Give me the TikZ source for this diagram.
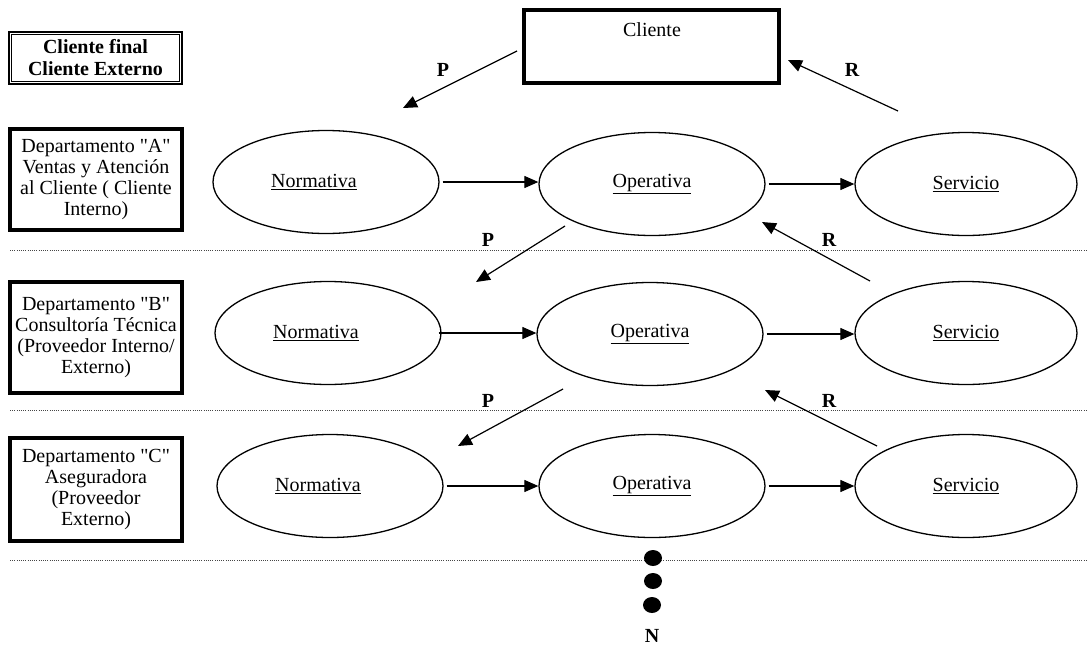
\documentclass[tikz,border=0pt]{standalone}
\usepackage{fontspec}
\setmainfont{Liberation Serif}
\usetikzlibrary{arrows.meta,shapes.geometric}
% straight double quote, kept out of the TeX ligature mapping
\newcommand\dq{\XeTeXglyph\XeTeXglyphindex "quotedbl"\relax}
% label set a little left of the ellipse centre
\newcommand\leftword[1]{\underline{#1}\rule{24pt}{0pt}}
\begin{document}
\begin{tikzpicture}[x=1pt,y=-1pt,
  txt/.style={font=\fontsize{20}{21.5}\selectfont, inner sep=0pt},
  lbl/.style={font=\fontsize{20}{21.5}\selectfont\bfseries, inner sep=0pt},
  dept/.style={draw, line width=3.5pt, minimum width=172pt, align=center,
    font=\fontsize{20}{21.2}\selectfont, inner sep=0pt},
  proc/.style={draw, ellipse, line width=1.3pt, minimum width=226pt,
    minimum height=103pt, inner sep=0pt, font=\fontsize{20}{21.5}\selectfont},
  flow/.style={line width=1.2pt, -{Triangle[length=14pt,width=12pt]}},
  sep/.style={line width=0.9pt, gray!55!black, dash pattern=on 1pt off 1.2pt},
  dot/.style={fill=black, ellipse, minimum width=18pt, minimum height=16pt, inner sep=0pt},
]
\useasboundingbox (0,0) rectangle (1088,649);

% level separators
\coordinate (s1a) at (10,250);  \coordinate (s1b) at (1088,250);
\coordinate (s2a) at (10,410);  \coordinate (s2b) at (1088,410);
\coordinate (s3a) at (10,560);  \coordinate (s3b) at (1088,560);
\draw[sep] (s1a) -- (s1b);
\draw[sep] (s2a) -- (s2b);
\draw[sep] (s3a) -- (s3b);

% end client
\node[draw, line width=2pt, minimum width=173pt, minimum height=52pt,
  align=center, font=\fontsize{20}{22}\selectfont\bfseries, inner sep=0pt]
  (cf) at (95.5,58) {Cliente final\\Cliente Externo};
\draw[line width=1pt] ([shift={(3.5,3.5)}]cf.north west) rectangle ([shift={(-3.5,-3.5)}]cf.south east);

\node[draw, line width=3.5pt, minimum width=255pt, minimum height=73pt] (cli) at (651.5,46.5) {};
\node[txt] (clitxt) at (652,30) {Cliente};

% departments
\node[dept, minimum height=101pt] (da) at (96,179.5)
  {Departamento \dq A\dq\\Ventas y Atención\\al Cliente ( Cliente\\Interno)};
\node[dept, minimum height=111pt] (db) at (96,337.5)
  {Departamento \dq B\dq\\Consultoría Técnica\\(Proveedor Interno/\\Externo)};
\node[dept, minimum height=103pt] (dc) at (96,489.5)
  {Departamento \dq C\dq\\Aseguradora\\(Proveedor\\Externo)};

% processes
\node[proc] (n1) at (326,182) {\leftword{Normativa}};
\node[proc] (o1) at (652,184) {\underline{Operativa}};
\node[proc, minimum width=222pt] (v1) at (966,184) {\underline{Servicio}};
\node[proc] (n2) at (328,333) {\leftword{Normativa}};
\node[proc] (o2) at (650,334) {\underline{Operativa}};
\node[proc, minimum width=222pt] (v2) at (966,333) {\underline{Servicio}};
\node[proc] (n3) at (330,486) {\leftword{Normativa}};
\node[proc] (o3) at (652,486) {\underline{Operativa}};
\node[proc, minimum width=222pt] (v3) at (966,486) {\underline{Servicio}};

\draw[flow] ([xshift=3pt]n1.east) -- (o1.west |- n1.east);
\draw[flow] ([xshift=3pt]o1.east) -- (v1.west |- o1.east);
\draw[flow] ([xshift=-3pt]n2.east) -- (o2.west |- n2.east);
\draw[flow] ([xshift=3pt]o2.east) -- (v2.west |- o2.east);
\draw[flow] ([xshift=3pt]n3.east) -- (o3.west |- n3.east);
\draw[flow] ([xshift=3pt]o3.east) -- (v3.west |- o3.east);

% requests (P) and responses (R) between levels
\coordinate (p0s) at (517,51);  \coordinate (p0e) at (403,108);
\coordinate (r0s) at (898,111); \coordinate (r0e) at (788,60);
\coordinate (p1s) at (565,226); \coordinate (p1e) at (476,282);
\coordinate (r1s) at (870,281); \coordinate (r1e) at (762,222);
\coordinate (p2s) at (563,389); \coordinate (p2e) at (458,446);
\coordinate (r2s) at (877,446); \coordinate (r2e) at (765,390);
\draw[flow] (p0s) -- (p0e);
\draw[flow] (r0s) -- (r0e);
\draw[flow] (p1s) -- (p1e);
\draw[flow] (r1s) -- (r1e);
\draw[flow] (p2s) -- (p2e);
\draw[flow] (r2s) -- (r2e);

\node[lbl] (lp0) at (443,70) {P};
\node[lbl] (lr0) at (852,70) {R};
\node[lbl] (lp1) at (488,240) {P};
\node[lbl] (lr1) at (829,240) {R};
\node[lbl] (lp2) at (488,401) {P};
\node[lbl] (lr2) at (829,401) {R};

% further levels
\node[dot] (d1) at (653,558) {};
\node[dot] (d2) at (653,581) {};
\node[dot] (d3) at (652,605) {};
\node[lbl] (ln) at (652,636) {N};
\end{tikzpicture}
\end{document}
